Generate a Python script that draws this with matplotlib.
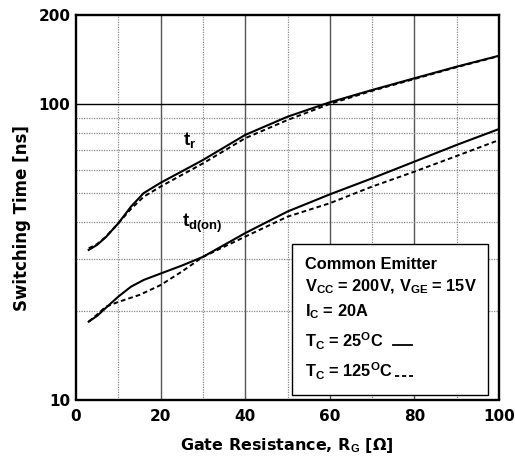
import matplotlib
matplotlib.use("Agg")
import matplotlib.pyplot as plt
from matplotlib.ticker import FixedLocator, NullFormatter, FixedFormatter
from matplotlib.lines import Line2D

plt.rcParams['font.family'] = ['Liberation Sans', 'DejaVu Sans']
plt.rcParams['font.weight'] = 'bold'
plt.rcParams['mathtext.fontset'] = 'custom'
plt.rcParams['mathtext.rm'] = 'Liberation Sans:bold'
plt.rcParams['mathtext.bf'] = 'Liberation Sans:bold'
plt.rcParams['mathtext.it'] = 'Liberation Sans:bold'

# Data (Gate resistance [ohm] vs switching time [ns])
rg_tr_25 = [3, 5, 7, 10, 13, 16, 20, 25, 30, 40, 50, 60, 70, 80, 90, 100]
tr_25 = [32.1, 33.4, 35.4, 39.5, 45.0, 50.0, 54.2, 59.2, 64.7, 78.7, 90.7, 101.5, 111.7, 122.4, 134.0, 145.9]

rg_tr_125 = [3, 5, 7, 10, 13, 16, 20, 25, 30, 40, 50, 60, 70, 80, 90, 100]
tr_125 = [32.5, 33.6, 35.5, 39.5, 44.2, 48.6, 52.6, 57.6, 63.0, 76.7, 88.4, 100.2, 111.0, 121.7, 133.5, 145.5]

rg_td_25 = [3, 5, 7, 10, 13, 16, 20, 25, 30, 40, 50, 60, 70, 80, 90, 100]
td_25 = [18.35, 19.2, 20.4, 22.3, 24.1, 25.4, 26.7, 28.4, 30.4, 36.6, 43.3, 49.5, 56.1, 63.9, 72.8, 82.4]

rg_td_125 = [3, 5, 7, 10, 15, 20, 25, 30, 40, 50, 60, 70, 80, 90, 100]
td_125 = [18.35, 19.4, 20.6, 21.4, 22.6, 24.4, 27.1, 30.4, 35.6, 41.6, 46.2, 52.6, 59.1, 66.8, 75.6]

x_major = [0, 20, 40, 60, 80, 100]
x_minor = [10, 30, 50, 70, 90]
y_labeled = [10, 100, 200]
y_minor = [20, 30, 40, 50, 60, 70, 80, 90]

xlabel = 'Gate Resistance, R$_{\\mathrm{G}}$ [Ω]'
ylabel = 'Switching Time [ns]'
legend_lines = ['Common Emitter',
                'V$_{\\mathrm{CC}}$ = 200V, V$_{\\mathrm{GE}}$ = 15V',
                'I$_{\\mathrm{C}}$ = 20A',
                'T$_{\\mathrm{C}}$ = 25$^{\\mathrm{O}}$C',
                'T$_{\\mathrm{C}}$ = 125$^{\\mathrm{O}}$C']

W, H = 515, 458
fig = plt.figure(figsize=(W / 100, H / 100), dpi=100)
ax = fig.add_axes([76 / W, 1 - 399.5 / H, (499 - 76) / W, (399.5 - 15.3) / H])
ax.set_yscale('log')
ax.set_xlim(0, 100)
ax.set_ylim(10, 200)

# grid
for x in [20, 40, 60, 80]:
    ax.axvline(x, color='#555555', lw=1.0, zorder=1)
for x in x_minor:
    ax.axvline(x, color='#888888', lw=0.9, ls=(0, (1, 1)), zorder=1)
ax.axhline(100, color='black', lw=1.0, zorder=1)
for y in y_minor:
    ax.axhline(y, color='#888888', lw=0.9, ls=(0, (1, 1)), zorder=1)

dash = (0, (2.4, 1.6))
ax.plot(rg_tr_25, tr_25, color='black', lw=1.5, zorder=3)
ax.plot(rg_tr_125, tr_125, color='black', lw=1.4, ls=dash, zorder=3)
ax.plot(rg_td_25, td_25, color='black', lw=1.5, zorder=3)
ax.plot(rg_td_125, td_125, color='black', lw=1.4, ls=dash, zorder=3)

ax.text(25.2, 72.8, 't$_{\\mathrm{r}}$', fontsize=13.5, fontweight='bold', ha='left', va='baseline')
ax.text(25.0, 38.5, 't$_{\\mathrm{d(on)}}$', fontsize=13.5, fontweight='bold', ha='left', va='baseline')

ax.xaxis.set_major_locator(FixedLocator(x_major))
ax.xaxis.set_minor_locator(FixedLocator(x_minor))
ax.yaxis.set_major_locator(FixedLocator(y_labeled))
ax.yaxis.set_major_formatter(FixedFormatter([str(v) for v in y_labeled]))
ax.yaxis.set_minor_locator(FixedLocator(y_minor))
ax.yaxis.set_minor_formatter(NullFormatter())
ax.tick_params(axis='both', which='both', length=0, labelsize=11)
ax.tick_params(axis='x', pad=7)
ax.tick_params(axis='y', pad=4)
for lab in ax.get_xticklabels() + ax.get_yticklabels():
    lab.set_fontweight('bold')
    lab.set_family('DejaVu Sans')

for s in ax.spines.values():
    s.set_linewidth(1.7)
    s.set_zorder(5)

fig.text(286.5 / W, 1 - 450 / H, xlabel, fontsize=11.5, fontweight='bold',
         family=['DejaVu Sans'], ha='center', va='baseline')
fig.text(22 / W, 1 - 218 / H, ylabel, fontsize=12, fontweight='bold',
         family=['DejaVu Sans'], ha='center', va='center', rotation=90)

# legend box
box = plt.Rectangle((51.1, 10.35), 46.2, 33.5 - 10.35, transform=ax.transData,
                    facecolor='white', edgecolor='black', lw=1.0, zorder=4)
ax.add_patch(box)
ys = [27.6, 23.17, 19.07, 15.02, 11.85]
for t, y in zip(legend_lines, ys):
    ax.text(54.1, y, t, fontsize=11.8, fontweight='bold', ha='left', va='baseline', zorder=6)
ax.add_line(Line2D([75.0, 79.4], [15.3, 15.3], color='black', lw=1.3, zorder=6))
ax.add_line(Line2D([75.3, 79.6], [12.04, 12.04], color='black', lw=1.3,
                   ls=(0, (2.3, 1.6)), zorder=6))

fig.savefig('out.png', dpi=100, facecolor='white')
